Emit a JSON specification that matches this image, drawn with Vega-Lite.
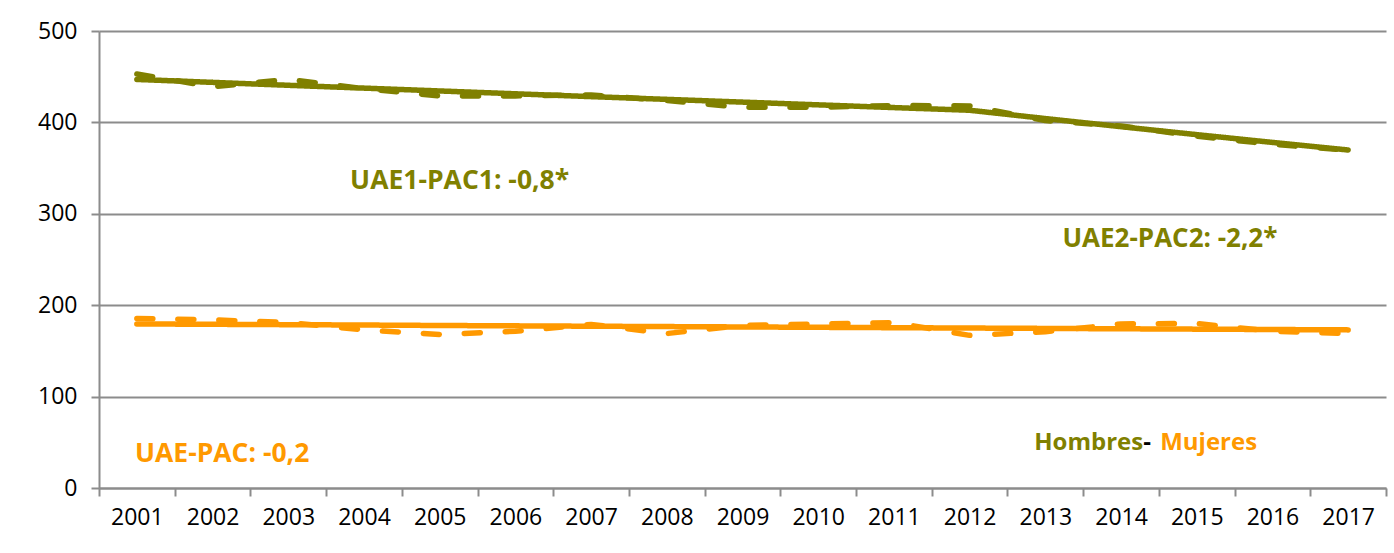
{
  "$schema": "https://vega.github.io/schema/vega-lite/v6.json",
  "width": 1287,
  "height": 457,
  "autosize": {"type": "none"},
  "padding": {"left": 99, "top": 31, "right": 8, "bottom": 65},
  "background": "white",
  "config": {"view": {"stroke": null}, "font": "Open Sans"},
  "datasets": {
    "series": [
      {"year": "2001", "sexo": "Hombres", "tipo": "Observado", "valor": 453},
      {"year": "2002", "sexo": "Hombres", "tipo": "Observado", "valor": 439},
      {"year": "2003", "sexo": "Hombres", "tipo": "Observado", "valor": 447},
      {"year": "2004", "sexo": "Hombres", "tipo": "Observado", "valor": 437},
      {"year": "2005", "sexo": "Hombres", "tipo": "Observado", "valor": 429},
      {"year": "2006", "sexo": "Hombres", "tipo": "Observado", "valor": 429},
      {"year": "2007", "sexo": "Hombres", "tipo": "Observado", "valor": 430},
      {"year": "2008", "sexo": "Hombres", "tipo": "Observado", "valor": 424},
      {"year": "2009", "sexo": "Hombres", "tipo": "Observado", "valor": 416.5},
      {"year": "2010", "sexo": "Hombres", "tipo": "Observado", "valor": 416.5},
      {"year": "2011", "sexo": "Hombres", "tipo": "Observado", "valor": 418.5},
      {"year": "2012", "sexo": "Hombres", "tipo": "Observado", "valor": 418},
      {"year": "2013", "sexo": "Hombres", "tipo": "Observado", "valor": 402},
      {"year": "2014", "sexo": "Hombres", "tipo": "Observado", "valor": 396},
      {"year": "2015", "sexo": "Hombres", "tipo": "Observado", "valor": 385},
      {"year": "2016", "sexo": "Hombres", "tipo": "Observado", "valor": 376},
      {"year": "2017", "sexo": "Hombres", "tipo": "Observado", "valor": 369.5},
      {"year": "2001", "sexo": "Hombres", "tipo": "Ajustado", "valor": 447},
      {"year": "2002", "sexo": "Hombres", "tipo": "Ajustado", "valor": 443.8},
      {"year": "2003", "sexo": "Hombres", "tipo": "Ajustado", "valor": 440.6},
      {"year": "2004", "sexo": "Hombres", "tipo": "Ajustado", "valor": 437.5},
      {"year": "2005", "sexo": "Hombres", "tipo": "Ajustado", "valor": 434.4},
      {"year": "2006", "sexo": "Hombres", "tipo": "Ajustado", "valor": 431.3},
      {"year": "2007", "sexo": "Hombres", "tipo": "Ajustado", "valor": 428.2},
      {"year": "2008", "sexo": "Hombres", "tipo": "Ajustado", "valor": 425.2},
      {"year": "2009", "sexo": "Hombres", "tipo": "Ajustado", "valor": 422.2},
      {"year": "2010", "sexo": "Hombres", "tipo": "Ajustado", "valor": 419.2},
      {"year": "2011", "sexo": "Hombres", "tipo": "Ajustado", "valor": 416.2},
      {"year": "2012", "sexo": "Hombres", "tipo": "Ajustado", "valor": 413.3},
      {"year": "2013", "sexo": "Hombres", "tipo": "Ajustado", "valor": 404.2},
      {"year": "2014", "sexo": "Hombres", "tipo": "Ajustado", "valor": 395.3},
      {"year": "2015", "sexo": "Hombres", "tipo": "Ajustado", "valor": 386.6},
      {"year": "2016", "sexo": "Hombres", "tipo": "Ajustado", "valor": 378.1},
      {"year": "2017", "sexo": "Hombres", "tipo": "Ajustado", "valor": 369.8},
      {"year": "2001", "sexo": "Mujeres", "tipo": "Observado", "valor": 185.5},
      {"year": "2002", "sexo": "Mujeres", "tipo": "Observado", "valor": 184},
      {"year": "2003", "sexo": "Mujeres", "tipo": "Observado", "valor": 181},
      {"year": "2004", "sexo": "Mujeres", "tipo": "Observado", "valor": 173},
      {"year": "2005", "sexo": "Mujeres", "tipo": "Observado", "valor": 168},
      {"year": "2006", "sexo": "Mujeres", "tipo": "Observado", "valor": 171.5},
      {"year": "2007", "sexo": "Mujeres", "tipo": "Observado", "valor": 179},
      {"year": "2008", "sexo": "Mujeres", "tipo": "Observado", "valor": 169},
      {"year": "2009", "sexo": "Mujeres", "tipo": "Observado", "valor": 178},
      {"year": "2010", "sexo": "Mujeres", "tipo": "Observado", "valor": 179.5},
      {"year": "2011", "sexo": "Mujeres", "tipo": "Observado", "valor": 181},
      {"year": "2012", "sexo": "Mujeres", "tipo": "Observado", "valor": 167},
      {"year": "2013", "sexo": "Mujeres", "tipo": "Observado", "valor": 171},
      {"year": "2014", "sexo": "Mujeres", "tipo": "Observado", "valor": 179.5},
      {"year": "2015", "sexo": "Mujeres", "tipo": "Observado", "valor": 180},
      {"year": "2016", "sexo": "Mujeres", "tipo": "Observado", "valor": 171.5},
      {"year": "2017", "sexo": "Mujeres", "tipo": "Observado", "valor": 169},
      {"year": "2001", "sexo": "Mujeres", "tipo": "Ajustado", "valor": 179.5},
      {"year": "2002", "sexo": "Mujeres", "tipo": "Ajustado", "valor": 179.1},
      {"year": "2003", "sexo": "Mujeres", "tipo": "Ajustado", "valor": 178.7},
      {"year": "2004", "sexo": "Mujeres", "tipo": "Ajustado", "valor": 178.3},
      {"year": "2005", "sexo": "Mujeres", "tipo": "Ajustado", "valor": 177.8},
      {"year": "2006", "sexo": "Mujeres", "tipo": "Ajustado", "valor": 177.4},
      {"year": "2007", "sexo": "Mujeres", "tipo": "Ajustado", "valor": 177.0},
      {"year": "2008", "sexo": "Mujeres", "tipo": "Ajustado", "valor": 176.6},
      {"year": "2009", "sexo": "Mujeres", "tipo": "Ajustado", "valor": 176.2},
      {"year": "2010", "sexo": "Mujeres", "tipo": "Ajustado", "valor": 175.8},
      {"year": "2011", "sexo": "Mujeres", "tipo": "Ajustado", "valor": 175.4},
      {"year": "2012", "sexo": "Mujeres", "tipo": "Ajustado", "valor": 175.0},
      {"year": "2013", "sexo": "Mujeres", "tipo": "Ajustado", "valor": 174.6},
      {"year": "2014", "sexo": "Mujeres", "tipo": "Ajustado", "valor": 174.2},
      {"year": "2015", "sexo": "Mujeres", "tipo": "Ajustado", "valor": 173.8},
      {"year": "2016", "sexo": "Mujeres", "tipo": "Ajustado", "valor": 173.4},
      {"year": "2017", "sexo": "Mujeres", "tipo": "Ajustado", "valor": 173.0}
    ]
  },
  "encoding": {
    "x": {
      "field": "year",
      "type": "ordinal",
      "scale": {"type": "band", "paddingInner": 0, "paddingOuter": 0},
      "axis": {
        "title": null,
        "labelAngle": 0,
        "tickBand": "extent",
        "domainColor": "#8C8C8C",
        "domainWidth": 2,
        "tickColor": "#8C8C8C",
        "tickWidth": 2,
        "tickSize": 8,
        "labelFontSize": 23,
        "labelColor": "black",
        "labelPadding": 10,
        "labelFont": "Open Sans"
      }
    },
    "y": {
      "field": "valor",
      "type": "quantitative",
      "scale": {"domain": [0, 500], "nice": false},
      "axis": {
        "title": null,
        "values": [0, 100, 200, 300, 400, 500],
        "grid": true,
        "gridColor": "#8C8C8C",
        "gridWidth": 2,
        "domainColor": "#8C8C8C",
        "domainWidth": 2,
        "tickColor": "#8C8C8C",
        "tickWidth": 2,
        "tickSize": 8,
        "labelFontSize": 23,
        "labelColor": "black",
        "labelPadding": 14,
        "labelFont": "Open Sans"
      }
    }
  },
  "layer": [
    {
      "data": {"name": "series"},
      "mark": {"type": "line", "strokeWidth": 5.5, "strokeCap": "round", "strokeJoin": "round"},
      "encoding": {
        "color": {
          "field": "sexo",
          "type": "nominal",
          "scale": {"domain": ["Hombres", "Mujeres"], "range": ["#808000", "#FF9900"]},
          "legend": null
        },
        "strokeDash": {
          "field": "tipo",
          "type": "nominal",
          "scale": {"domain": ["Ajustado", "Observado"], "range": [[1, 0], [16, 25]]},
          "legend": null
        }
      }
    },
    {
      "data": {"values": [{"year": "2004", "valor": 336, "texto": "UAE1-PAC1: -0,8*"}]},
      "mark": {"type": "text", "align": "left", "baseline": "middle", "fontSize": 26.5, "fontWeight": "bold", "font": "Open Sans", "color": "#808000", "dx": 24},
      "encoding": {
        "x": {"field": "year", "type": "ordinal", "bandPosition": 0},
        "text": {"field": "texto"}
      }
    },
    {
      "data": {"values": [{"year": "2013", "valor": 272, "texto": "UAE2-PAC2: -2,2*"}]},
      "mark": {"type": "text", "align": "left", "baseline": "middle", "fontSize": 26, "fontWeight": "bold", "font": "Open Sans", "color": "#808000", "dx": 55},
      "encoding": {
        "x": {"field": "year", "type": "ordinal", "bandPosition": 0},
        "text": {"field": "texto"}
      }
    },
    {
      "data": {"values": [{"year": "2001", "valor": 37, "texto": "UAE-PAC: -0,2"}]},
      "mark": {"type": "text", "align": "left", "baseline": "middle", "fontSize": 26.5, "fontWeight": "bold", "font": "Open Sans", "color": "#FF9900", "dx": 36},
      "encoding": {
        "x": {"field": "year", "type": "ordinal", "bandPosition": 0},
        "text": {"field": "texto"}
      }
    },
    {
      "data": {"values": [{"year": "2014", "valor": 49, "texto": "Hombres"}]},
      "mark": {"type": "text", "align": "right", "baseline": "middle", "fontSize": 24, "fontWeight": "bold", "font": "Open Sans", "color": "#808000", "dx": 60},
      "encoding": {
        "x": {"field": "year", "type": "ordinal", "bandPosition": 0},
        "text": {"field": "texto"}
      }
    },
    {
      "data": {"values": [{"year": "2014", "valor": 49, "texto": "-"}]},
      "mark": {"type": "text", "align": "left", "baseline": "middle", "fontSize": 24, "fontWeight": "bold", "font": "Open Sans", "color": "black", "dx": 60},
      "encoding": {
        "x": {"field": "year", "type": "ordinal", "bandPosition": 0},
        "text": {"field": "texto"}
      }
    },
    {
      "data": {"values": [{"year": "2014", "valor": 49, "texto": "Mujeres"}]},
      "mark": {"type": "text", "align": "left", "baseline": "middle", "fontSize": 24, "fontWeight": "bold", "font": "Open Sans", "color": "#FF9900", "dx": 77},
      "encoding": {
        "x": {"field": "year", "type": "ordinal", "bandPosition": 0},
        "text": {"field": "texto"}
      }
    }
  ]
}
